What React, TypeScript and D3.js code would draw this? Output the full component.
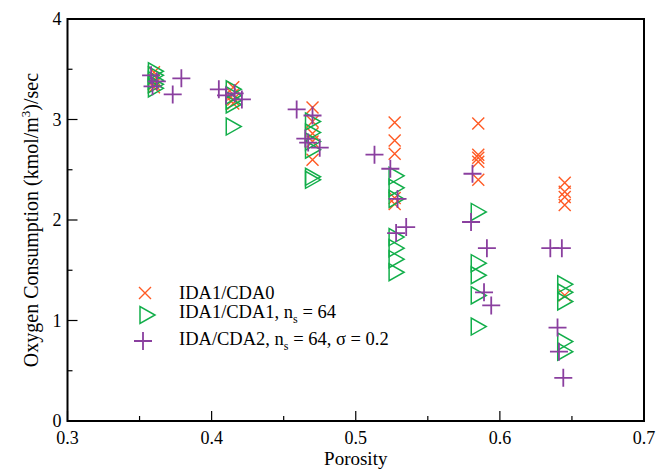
import * as d3 from "d3";

// IDA1/CDA0 (red crosses)
const redX = [0.36, 0.36, 0.36, 0.36, 0.415, 0.415, 0.415, 0.415, 0.47, 0.47, 0.47, 0.47, 0.47, 0.527, 0.527, 0.527, 0.527, 0.527, 0.585, 0.585, 0.585, 0.585, 0.585, 0.645, 0.645, 0.645, 0.645, 0.645];
const redY = [3.47, 3.4, 3.35, 3.32, 3.32, 3.25, 3.2, 3.16, 3.12, 2.98, 2.86, 2.78, 2.6, 2.97, 2.79, 2.66, 2.22, 2.16, 2.96, 2.65, 2.62, 2.58, 2.4, 2.37, 2.28, 2.23, 2.15, 1.25];

// IDA1/CDA1, ns = 64 (green triangles)
const greenX = [0.361, 0.361, 0.361, 0.361, 0.361, 0.415, 0.415, 0.415, 0.415, 0.415, 0.47, 0.47, 0.47, 0.47, 0.47, 0.47, 0.528, 0.528, 0.528, 0.528, 0.528, 0.528, 0.528, 0.585, 0.585, 0.585, 0.585, 0.585, 0.645, 0.645, 0.645, 0.645, 0.645];
const greenY = [3.48, 3.44, 3.39, 3.35, 3.31, 3.3, 3.24, 3.19, 3.15, 2.93, 2.98, 2.87, 2.78, 2.7, 2.43, 2.4, 2.44, 2.32, 2.21, 1.83, 1.72, 1.61, 1.48, 2.08, 1.57, 1.45, 1.25, 0.94, 1.36, 1.28, 1.19, 0.79, 0.69];

// IDA/CDA2, ns = 64, sigma = 0.2 (purple plus)
const purpleX = [0.358, 0.362, 0.359, 0.379, 0.373, 0.405, 0.41, 0.416, 0.421, 0.459, 0.47, 0.465, 0.467, 0.475, 0.513, 0.524, 0.529, 0.528, 0.535, 0.581, 0.58, 0.591, 0.589, 0.594, 0.635, 0.643, 0.64, 0.641, 0.644];
const purpleY = [3.44, 3.38, 3.33, 3.41, 3.25, 3.3, 3.24, 3.26, 3.2, 3.1, 3.04, 2.81, 2.77, 2.72, 2.65, 2.51, 2.21, 1.87, 1.93, 2.46, 1.98, 1.72, 1.28, 1.15, 1.72, 1.72, 0.93, 0.69, 0.43];

const xMajor = [0.3, 0.4, 0.5, 0.6, 0.7];
const xMinor = [0.35, 0.45, 0.55, 0.65];
const yMajor = [0, 1, 2, 3, 4];
const yMinor = [0.5, 1.5, 2.5, 3.5];

const RED = "#ff5a24";
const GREEN = "#12ae4a";
const PURPLE = "#8a3f9f";
const FONT = "'Liberation Serif', 'DejaVu Serif', serif";

const W = 656, H = 470;
const margin = { left: 67.5, right: 12, top: 19, bottom: 49 };

const crossPath = "M-6,-6L6,6M-6,6L6,-6";
const triPath = "M-7,-8.5L-7,8.5L8,0Z";
const plusPath = "M-9,0L9,0M0,-9L0,9";

export default function App() {
  const x = d3.scaleLinear().domain([0.3, 0.7]).range([margin.left, W - margin.right]);
  const y = d3.scaleLinear().domain([0, 4]).range([H - margin.bottom, margin.top]);
  const [x0, x1] = x.range();
  const [y0, y1] = y.range();

  const marks = (xs: number[], ys: number[], path: string, color: string, sw: number) =>
    xs.map((v, i) => (
      <path key={i} d={path} transform={`translate(${x(v)},${y(ys[i])})`}
        stroke={color} strokeWidth={sw} fill="none" />
    ));

  const legendX = 145;
  const legendTextX = 179;
  const legendY = [293, 315, 341];

  return (
    <svg width={W} height={H} style={{ position: "absolute", left: 0, top: 0, background: "#fff" }}
      fontFamily={FONT}>
      {/* ticks, inward */}
      {xMajor.map(t => <line key={"xM" + t} x1={x(t)} x2={x(t)} y1={y0} y2={y0 - 10} stroke="#000" strokeWidth={1.2} />)}
      {xMinor.map(t => <line key={"xm" + t} x1={x(t)} x2={x(t)} y1={y0} y2={y0 - 5} stroke="#000" strokeWidth={1.2} />)}
      {yMajor.map(t => <line key={"yM" + t} x1={x0} x2={x0 + 10} y1={y(t)} y2={y(t)} stroke="#000" strokeWidth={1.2} />)}
      {yMinor.map(t => <line key={"ym" + t} x1={x0} x2={x0 + 5} y1={y(t)} y2={y(t)} stroke="#000" strokeWidth={1.2} />)}

      {/* tick labels */}
      {xMajor.map(t => (
        <text key={"xl" + t} x={x(t)} y={y0 + 23} fontSize={18} textAnchor="middle">{d3.format(".1f")(t)}</text>
      ))}
      {yMajor.map(t => (
        <text key={"yl" + t} x={x0 - 6} y={y(t) + 6} fontSize={18} textAnchor="end">{t}</text>
      ))}

      {/* data */}
      <g>{marks(redX, redY, crossPath, RED, 1.4)}</g>
      <g>{marks(greenX, greenY, triPath, GREEN, 1.5)}</g>
      <g>{marks(purpleX, purpleY, plusPath, PURPLE, 1.8)}</g>

      {/* frame */}
      <rect x={x0} y={y1} width={x1 - x0} height={y0 - y1} fill="none" stroke="#000" strokeWidth={2} />

      {/* legend */}
      <path d={crossPath} transform={`translate(${legendX},${legendY[0]})`} stroke={RED} strokeWidth={1.4} fill="none" />
      <path d={triPath} transform={`translate(${legendX + 2},${legendY[1]})`} stroke={GREEN} strokeWidth={1.5} fill="none" />
      <path d={plusPath} transform={`translate(${legendX - 2},${legendY[2]})`} stroke={PURPLE} strokeWidth={1.8} fill="none" />
      <text x={legendTextX} y={legendY[0] + 6} fontSize={18.5}>IDA1/CDA0</text>
      <text x={legendTextX} y={legendY[1] + 3} fontSize={18.5}>
        IDA1/CDA1, n<tspan fontSize={12} dy={5}>s</tspan><tspan dy={-5}> = 64</tspan>
      </text>
      <text x={legendTextX} y={legendY[2] + 4} fontSize={18.5}>
        IDA/CDA2, n<tspan fontSize={12} dy={5}>s</tspan><tspan dy={-5}> = 64, σ = 0.2</tspan>
      </text>

      {/* axis titles */}
      <text x={(x0 + x1) / 2} y={y0 + 44} fontSize={19} textAnchor="middle">Porosity</text>
      <text transform={`translate(38,${(y0 + y1) / 2}) rotate(-90)`} fontSize={20} textAnchor="middle">
        Oxygen Consumption (kmol/m<tspan fontSize={13} dy={-8}>3</tspan><tspan dy={8}>)/sec</tspan>
      </text>
    </svg>
  );
}
